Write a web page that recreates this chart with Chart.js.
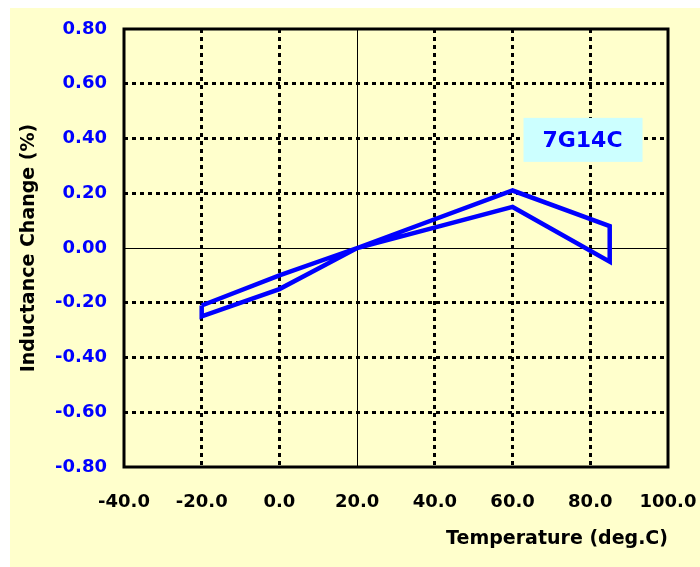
<!DOCTYPE html>
<html>
<head>
<meta charset="utf-8">
<script src="https://cdn.jsdelivr.net/npm/chart.js@4"></script>
<style>
  body { margin: 0; background: #ffffff; }
  canvas { display: block; }
</style>
</head>
<body>
<canvas id="chart" width="700" height="567"></canvas>
<script>
// 温度循环数据 (deg.C / %)
const temps = [-20, 0, 20, 60, 85, 85, 60, 20, 0, -20, -20];
const inductanceChange = [-0.21, -0.10, 0.00, 0.21, 0.08, -0.05, 0.15, 0.00, -0.15, -0.25, -0.21];
const xTicks = [-40, -20, 0, 20, 40, 60, 80, 100];
const yTicks = [-0.8, -0.6, -0.4, -0.2, 0, 0.2, 0.4, 0.6, 0.8];
const partName = '7G14C';

const points = temps.map(function(t, i) {
    return { x: t, y: inductanceChange[i] };
});

const fontFamily = '"DejaVu Sans", Arial, sans-serif';

// 背景、零线、外框、型号标签
const decorPlugin = {
    id: 'decor',
    beforeDraw: function(chart) {
        const ctx = chart.ctx;
        ctx.save();
        ctx.fillStyle = '#ffffcc';
        ctx.fillRect(10, 8, chart.width - 10, chart.height - 8);
        ctx.restore();
    },
    beforeDatasetsDraw: function(chart) {
        const ctx = chart.ctx;
        const area = chart.chartArea;
        const xs = chart.scales.x;
        const ys = chart.scales.y;
        ctx.save();
        ctx.strokeStyle = '#000000';
        ctx.lineWidth = 1;
        ctx.beginPath();
        const x20 = Math.round(xs.getPixelForValue(20)) + 0.5;
        ctx.moveTo(x20, area.top);
        ctx.lineTo(x20, area.bottom);
        const y0 = Math.round(ys.getPixelForValue(0)) + 0.5;
        ctx.moveTo(area.left, y0);
        ctx.lineTo(area.right, y0);
        ctx.stroke();

        ctx.lineWidth = 3;
        ctx.strokeRect(area.left, area.top, area.right - area.left, area.bottom - area.top);

        // 型号标签
        const cx = xs.getPixelForValue(78);
        const cy = ys.getPixelForValue(0.395);
        ctx.fillStyle = '#ccffff';
        ctx.fillRect(cx - 59, cy - 22, 119, 44);
        ctx.fillStyle = '#0000ff';
        ctx.font = 'bold 22px ' + fontFamily;
        ctx.textAlign = 'center';
        ctx.textBaseline = 'middle';
        ctx.fillText(partName, cx, cy + 1);
        ctx.restore();
    }
};

const ctxChart = document.getElementById('chart').getContext('2d');
const chart = new Chart(ctxChart, {
    type: 'scatter',
    data: {
        datasets: [{
            label: partName,
            data: points,
            showLine: true,
            borderColor: '#0000ff',
            backgroundColor: '#0000ff',
            borderWidth: 4.5,
            borderJoinStyle: 'miter',
            pointRadius: 0,
            tension: 0
        }]
    },
    options: {
        responsive: false,
        animation: false,
        layout: {
            padding: { top: 29, right: 32, left: 0, bottom: 0 }
        },
        plugins: {
            legend: { display: false },
            tooltip: { enabled: false }
        },
        scales: {
            x: {
                type: 'linear',
                min: -40,
                max: 100,
                afterFit: function(scale) {
                    scale.height = 100;
                    scale.paddingLeft = 0;
                    scale.paddingRight = 0;
                },
                afterBuildTicks: function(scale) {
                    scale.ticks = xTicks.map(function(v) { return { value: v }; });
                },
                grid: {
                    drawTicks: false,
                    lineWidth: 3,
                    color: function(c) {
                        const v = c.tick ? c.tick.value : null;
                        return (v === 20 || v === -40 || v === 100) ? 'rgba(0,0,0,0)' : '#000000';
                    }
                },
                border: { display: false, dash: [4, 4] },
                ticks: {
                    padding: 25,
                    color: '#000000',
                    font: { family: fontFamily, size: 18, weight: 'bold' },
                    callback: function(v) { return Number(v).toFixed(1); }
                },
                title: {
                    display: true,
                    text: 'Temperature (deg.C)',
                    align: 'end',
                    color: '#000000',
                    font: { family: fontFamily, size: 19, weight: 'bold' },
                    padding: { top: 0, bottom: 17 }
                }
            },
            y: {
                type: 'linear',
                min: -0.8,
                max: 0.8,
                afterFit: function(scale) {
                    scale.width = 124;
                    scale.paddingTop = 0;
                    scale.paddingBottom = 0;
                },
                afterBuildTicks: function(scale) {
                    scale.ticks = yTicks.map(function(v) { return { value: v }; });
                },
                grid: {
                    drawTicks: false,
                    lineWidth: 3,
                    color: function(c) {
                        const v = c.tick ? c.tick.value : null;
                        return (v === 0 || v === -0.8 || v === 0.8) ? 'rgba(0,0,0,0)' : '#000000';
                    }
                },
                border: { display: false, dash: [4, 4] },
                ticks: {
                    padding: 17,
                    color: '#0000ff',
                    font: { family: fontFamily, size: 18, weight: 'bold' },
                    callback: function(v) { return Number(v).toFixed(2); }
                },
                title: {
                    display: true,
                    text: 'Inductance Change (%)',
                    color: '#000000',
                    font: { family: fontFamily, size: 19, weight: 'bold' },
                    padding: { top: 18, bottom: 0 }
                }
            }
        }
    },
    plugins: [decorPlugin]
});
</script>
</body>
</html>
